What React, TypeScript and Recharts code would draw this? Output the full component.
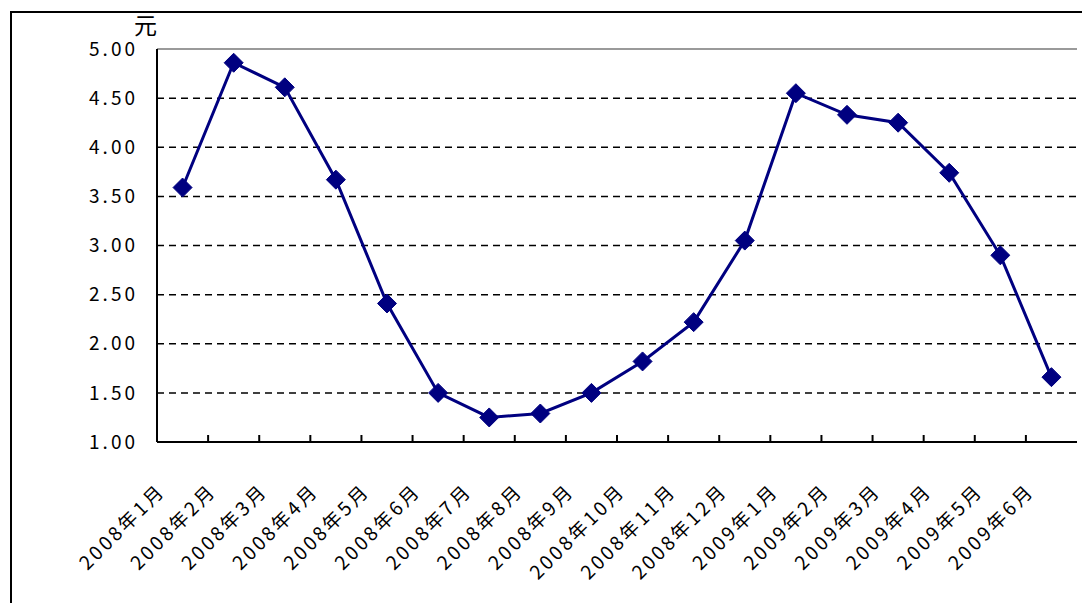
import React from "react";
import {
  LineChart,
  Line,
  XAxis,
  YAxis,
  CartesianGrid,
  ReferenceLine,
} from "recharts";

const months = [
  "2008年1月", "2008年2月", "2008年3月", "2008年4月", "2008年5月", "2008年6月",
  "2008年7月", "2008年8月", "2008年9月", "2008年10月", "2008年11月", "2008年12月",
  "2009年1月", "2009年2月", "2009年3月", "2009年4月", "2009年5月", "2009年6月",
];

const prices = [
  3.59, 4.86, 4.61, 3.67, 2.41, 1.5,
  1.25, 1.29, 1.5, 1.82, 2.22, 3.05,
  4.55, 4.33, 4.25, 3.74, 2.9, 1.66,
];

const yTicks = [1, 1.5, 2, 2.5, 3, 3.5, 4, 4.5, 5];
const gridValues = [1.5, 2, 2.5, 3, 3.5, 4, 4.5];

const W = 1082;
const H = 603;
const PLOT_LEFT = 157;
const PLOT_RIGHT = 1077;
const PLOT_TOP = 49;
const PLOT_BOTTOM = 442;
const band = (PLOT_RIGHT - PLOT_LEFT) / months.length;

const FONT = "'Noto Sans CJK SC', 'DejaVu Sans', sans-serif";

const chartData = months.map((m, i) => ({ month: m, price: prices[i] }));

// diamond marker
const Diamond = (props: any) => {
  const { cx, cy } = props;
  if (cx == null || cy == null) return null;
  const r = 9.5;
  return (
    <polygon
      points={`${cx},${cy - r} ${cx + r},${cy} ${cx},${cy + r} ${cx - r},${cy}`}
      fill="#000080"
      stroke="#000080"
      strokeWidth={1}
    />
  );
};

const MonthTick = (props: any) => {
  const { x, y, payload, index } = props;
  const bx = x - band / 2;
  return (
    <g>
      {index > 0 && (
        <line x1={bx} y1={y} x2={bx} y2={y - 7} stroke="#000" strokeWidth={2} />
      )}
      <text
        x={x - 16}
        y={y + 50}
        transform={`rotate(-45, ${x - 16}, ${y + 50})`}
        textAnchor="end"
        fontSize={19}
        letterSpacing={3}
        fill="#000"
        fontFamily={FONT}
      >
        {payload.value}
      </text>
    </g>
  );
};

export default function App() {
  return (
    <div
      style={{
        position: "absolute",
        left: 0,
        top: 0,
        width: W,
        height: H,
        background: "#fff",
        overflow: "hidden",
      }}
    >
      <div
        style={{
          position: "absolute",
          left: 10,
          top: 11,
          width: W,
          height: H,
          borderLeft: "2px solid #000",
          borderTop: "2px solid #000",
        }}
      />
      <div
        style={{
          position: "absolute",
          left: 134,
          top: 13,
          fontSize: 23,
          fontFamily: FONT,
          color: "#000",
          lineHeight: 1,
        }}
      >
        元
      </div>
      <div style={{ position: "absolute", left: 0, top: 0 }}>
        <LineChart
          width={W}
          height={H}
          data={chartData}
          margin={{ top: PLOT_TOP, right: W - PLOT_RIGHT, bottom: 0, left: 0 }}
        >
          <CartesianGrid
            vertical={false}
            horizontalValues={gridValues}
            stroke="#000"
            strokeDasharray="7 5"
            strokeWidth={1.5}
          />
          <ReferenceLine y={5} stroke="#9a9a9a" strokeWidth={2} />
          <XAxis
            dataKey="month"
            height={H - PLOT_BOTTOM}
            interval={0}
            padding={{ left: band / 2, right: band / 2 }}
            tickSize={0}
            tickMargin={0}
            tickLine={false}
            axisLine={{ stroke: "#000", strokeWidth: 2 }}
            tick={<MonthTick />}
          />
          <YAxis
            width={PLOT_LEFT}
            domain={[1, 5]}
            ticks={yTicks}
            interval={0}
            tickSize={0}
            tickMargin={19}
            tickLine={false}
            axisLine={{ stroke: "#000", strokeWidth: 2 }}
            tickFormatter={(v: number) => v.toFixed(2)}
            tick={{ fontSize: 19, fill: "#000", fontFamily: FONT, letterSpacing: 3 }}
          />
          <YAxis
            yAxisId="frame"
            orientation="right"
            width={0}
            domain={[1, 5]}
            tick={false}
            tickLine={false}
            axisLine={{ stroke: "#9a9a9a", strokeWidth: 2 }}
          />
          <Line
            type="linear"
            dataKey="price"
            stroke="#000080"
            strokeWidth={3}
            dot={<Diamond />}
            activeDot={false}
            isAnimationActive={false}
          />
        </LineChart>
      </div>
    </div>
  );
}
